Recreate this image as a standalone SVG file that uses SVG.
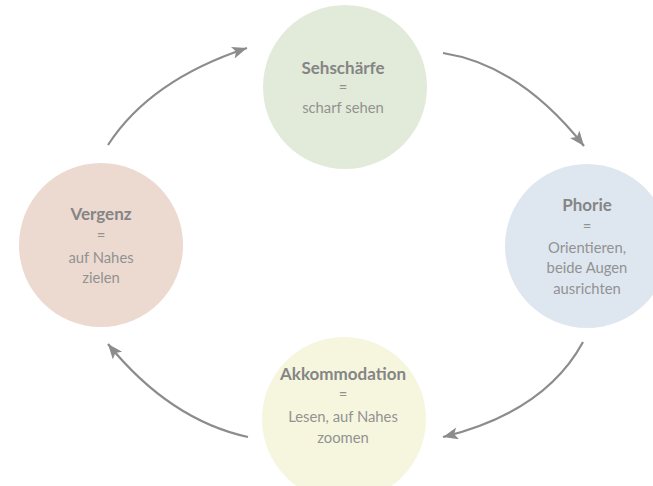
<svg xmlns="http://www.w3.org/2000/svg" width="653" height="486" viewBox="0 0 653 486">
<style>
.b{font-family:Lato,"Open Sans","Liberation Sans",sans-serif;font-weight:bold;font-size:17px;fill:#858585;text-anchor:middle}
.t{font-family:Lato,"Open Sans","Liberation Sans",sans-serif;font-size:14.8px;fill:#929292;text-anchor:middle}
.c{fill:none;stroke:#8c8c8c;stroke-width:2.2}
</style>
<defs>
<marker id="ah" markerUnits="userSpaceOnUse" markerWidth="16" markerHeight="14" refX="15" refY="6" orient="auto">
<path d="M0,0 L15,6 L0,12 L3.5,6 Z" fill="#8c8c8c"/>
</marker>
</defs>
<rect width="653" height="486" fill="#ffffff"/>
<g id="connectors">
<path class="c" d="M108,145 Q150,80 247,48" marker-end="url(#ah)"/>
<path class="c" d="M443,53 Q520,65 584,146" marker-end="url(#ah)"/>
<path class="c" d="M583,342 Q545,412 443,437" marker-end="url(#ah)"/>
<path class="c" d="M248,437 Q170,420 108,344" marker-end="url(#ah)"/>
</g>
<g id="sehschaerfe">
<circle cx="345" cy="87" r="82" fill="#e2ebd9"/>
<text class="b" x="343" y="74">Sehschärfe</text>
<text class="t" x="343" y="93">=</text>
<text class="t" x="343" y="113">scharf sehen</text>
</g>
<g id="phorie">
<circle cx="587" cy="246" r="82" fill="#dee7f0"/>
<text class="b" x="587" y="211">Phorie</text>
<text class="t" x="587" y="232">=</text>
<text class="t" x="587" y="253">Orientieren,</text>
<text class="t" x="587" y="273">beide Augen</text>
<text class="t" x="587" y="294">ausrichten</text>
</g>
<g id="akkommodation">
<circle cx="344" cy="419" r="82" fill="#f6f6df"/>
<text class="b" x="343" y="380">Akkommodation</text>
<text class="t" x="343" y="400">=</text>
<text class="t" x="343" y="422">Lesen, auf Nahes</text>
<text class="t" x="343" y="443">zoomen</text>
</g>
<g id="vergenz">
<circle cx="101" cy="245" r="82" fill="#ecdad0"/>
<text class="b" x="101" y="220">Vergenz</text>
<text class="t" x="101" y="241">=</text>
<text class="t" x="101" y="263">auf Nahes</text>
<text class="t" x="101" y="283">zielen</text>
</g>
</svg>
